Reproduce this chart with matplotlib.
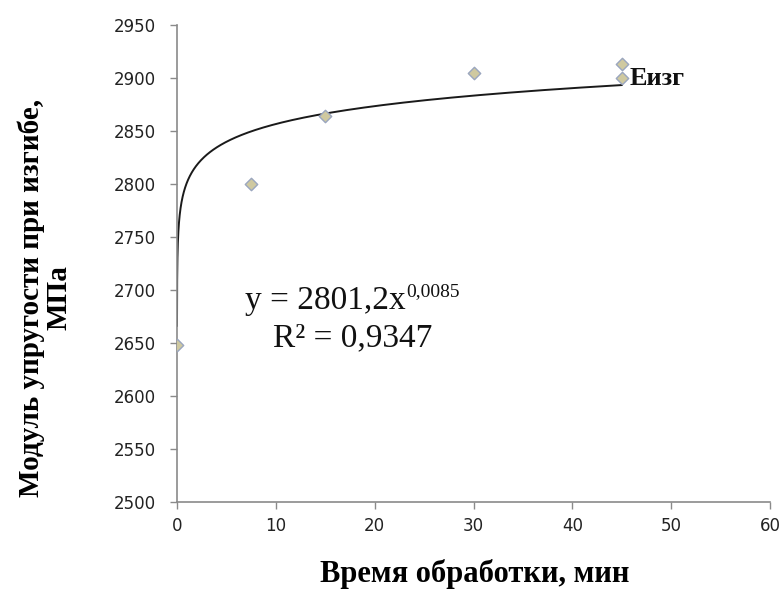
import numpy as np
import matplotlib
matplotlib.use('Agg')
import matplotlib.pyplot as plt

# measured points (time, min / modulus, MPa)
time_min = [0, 7.5, 15, 30, 45, 45]
modulus = [2648, 2800, 2864, 2905, 2913, 2900]

# power trend from the chart: y = 2801.2 * x^0.0085
coef_a = 2801.2
coef_b = 0.0085
trend_x0 = 0.003
trend_x1 = 45

x_ticks = [0, 10, 20, 30, 40, 50, 60]
y_ticks = [2500, 2550, 2600, 2650, 2700, 2750, 2800, 2850, 2900, 2950]

fig = plt.figure(figsize=(7.82, 5.89), dpi=100)
ax = fig.add_axes([0.2263, 0.1477, 0.7584, 0.8099])

tx = np.geomspace(trend_x0, trend_x1, 400)
ax.plot(tx, coef_a * tx ** coef_b, color='#1a1a1a', lw=1.4, zorder=2)

ax.scatter(time_min, modulus, marker='D', s=40, facecolor='#cfc9a0',
           edgecolor='#9aa6bf', linewidth=1.0, zorder=3)

ax.set_xlim(0, 60)
ax.set_ylim(2500, 2950)
ax.set_xticks(x_ticks)
ax.set_yticks(y_ticks)

tick_font = ['Liberation Sans Narrow', 'DejaVu Sans']
for lab in ax.get_xticklabels() + ax.get_yticklabels():
    lab.set_family(tick_font)
    lab.set_fontsize(12)
    lab.set_color('#222222')

for s in ['top', 'right']:
    ax.spines[s].set_visible(False)
for s in ['left', 'bottom']:
    ax.spines[s].set_color('#8a8a8a')
    ax.spines[s].set_linewidth(1.2)
ax.tick_params(axis='x', direction='out', length=5, color='#8a8a8a', width=1, pad=6)
ax.tick_params(axis='y', direction='out', length=5, color='#8a8a8a', width=1, pad=10)

serif = 'Liberation Serif'
fig.text(475 / 782, 1 - 574 / 589, 'Время обработки, мин', family=serif,
         fontweight='bold', fontsize=22, ha='center', va='center')
fig.text(45 / 782, 1 - 298 / 589, 'Модуль упругости при изгибе,\nМПа',
         family=serif, fontweight='bold', fontsize=21, ha='center',
         va='center', rotation=90, linespacing=1.0, multialignment='center')

eq = ax.text(6.9, 2682, 'y = 2801,2x', family=serif, fontsize=24,
             color='#111111', va='baseline')
ax.annotate('0,0085', xy=(1.0, 0.66), xycoords=eq, family=serif,
            fontsize=14, color='#111111', va='baseline', ha='left')
ax.text(9.7, 2647, 'R² = 0,9347', family=serif, fontsize=24,
        color='#111111', va='baseline')

ax.text(45.8, 2893, 'Еизг', family=serif, fontweight='bold', fontsize=19,
        color='#111111', va='baseline')

fig.savefig('out.png', dpi=100)
